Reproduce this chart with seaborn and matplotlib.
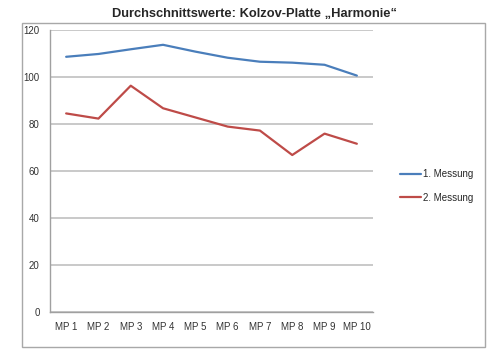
import pandas
import matplotlib
import matplotlib.pyplot as plt
import seaborn as sns
from matplotlib.patches import Rectangle

plt.switch_backend('agg')

# data
punkte = ["MP 1", "MP 2", "MP 3", "MP 4", "MP 5", "MP 6", "MP 7", "MP 8", "MP 9", "MP 10"]
messung_1 = [108.6, 109.8, 111.8, 113.7, 110.8, 108.2, 106.5, 106.1, 105.2, 100.6]
messung_2 = [84.5, 82.3, 96.3, 86.7, 82.8, 78.9, 77.2, 66.8, 75.9, 71.6]
serien = ["1. Messung", "2. Messung"]
farben = ["#4a7ebb", "#be4b48"]
y_ticks = [0, 20, 40, 60, 80, 100, 120]

df = pandas.DataFrame({
    "pos": list(range(len(punkte))) * 2,
    "wert": messung_1 + messung_2,
    "serie": [serien[0]] * len(punkte) + [serien[1]] * len(punkte),
})

sns.set_style("white")
plt.rcParams['font.family'] = ['Liberation Sans', 'DejaVu Sans']

fig = plt.figure(figsize=(5.0, 3.57), dpi=100)
W, H = 500, 357
ax = fig.add_axes([50 / W, 1 - 312 / H, (373 - 50) / W, (312 - 30) / H])

sns.lineplot(data=df, x="pos", y="wert", hue="serie", palette=farben,
             linewidth=1.6, ax=ax, legend=True)

ax.set_xlim(-0.5, len(punkte) - 0.5)
ax.set_ylim(0, 120)
ax.set_yticks(y_ticks)
ax.set_yticklabels([str(v) for v in y_ticks], fontsize=7, color="#333333")
ax.set_xticks(range(len(punkte)))
ax.set_xticklabels(punkte, fontsize=7, color="#333333")
ax.set_xticks([i - 0.5 for i in range(len(punkte) + 1)], minor=True)
ax.tick_params(axis="x", which="major", length=0, pad=7.5)
ax.tick_params(axis="x", which="minor", length=3, color="#a0a0a0", width=0.8, direction="out")
ax.tick_params(axis="y", length=2, color="#c0c0c0", width=1.2, direction="out", pad=5.5)
ax.yaxis.grid(True, color="#c0c0c0", linewidth=1.2)
ax.set_axisbelow(True)
ax.set_xlabel("")
ax.set_ylabel("")
for s in ["top", "right"]:
    ax.spines[s].set_visible(False)
ax.spines["left"].set_color("#a0a0a0")
ax.spines["bottom"].set_color("#a0a0a0")
ax.spines["left"].set_linewidth(1.0)
ax.spines["bottom"].set_linewidth(1.0)

handles, labels = ax.get_legend_handles_labels()
ax.legend(handles, labels, loc="center left", bbox_to_anchor=(391 / W, 1 - 186 / H),
          bbox_transform=fig.transFigure, frameon=False, fontsize=7,
          handlelength=2.2, handletextpad=0.15, labelspacing=1.35)

# outer chart frame
fig.patches.append(Rectangle((22 / W, 1 - 347 / H), (485 - 22) / W, (347 - 23) / H,
                             transform=fig.transFigure, fill=False,
                             edgecolor="#a8a8a8", linewidth=1.0))

fig.text(255 / W, 1 - 14 / H, "Durchschnittswerte: Kolzov-Platte \u201eHarmonie\u201c",
         ha="center", va="center", fontsize=9.3, fontweight="bold")

plt.savefig("out.png", dpi=100)
